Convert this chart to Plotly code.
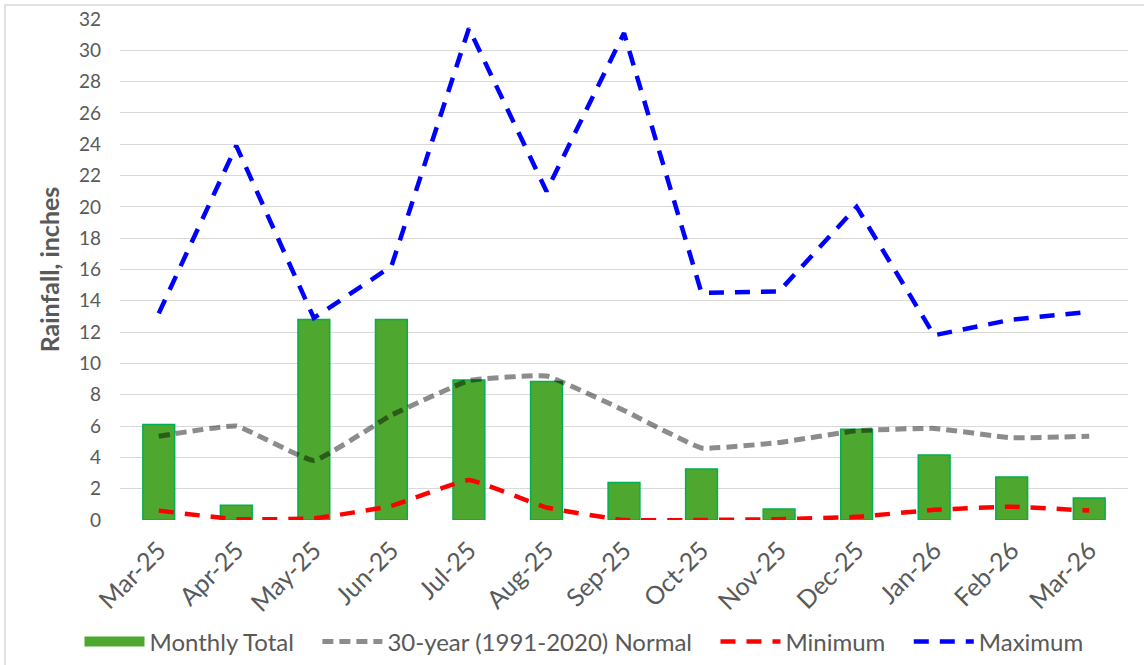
import plotly.graph_objects as go

months = ["Mar-25", "Apr-25", "May-25", "Jun-25", "Jul-25", "Aug-25", "Sep-25",
          "Oct-25", "Nov-25", "Dec-25", "Jan-26", "Feb-26", "Mar-26"]
monthly_total = [6.1, 0.95, 12.8, 12.8, 8.95, 8.85, 2.4, 3.25, 0.7, 5.8, 4.15, 2.75, 1.4]
normal = [5.35, 6.0, 3.8, 6.7, 8.9, 9.2, 7.0, 4.6, 4.95, 5.7, 5.85, 5.25, 5.35]
minimum = [0.6, 0.05, 0.1, 0.9, 2.55, 0.8, 0.0, 0.0, 0.05, 0.2, 0.65, 0.85, 0.6]
maximum = [13.2, 23.9, 12.9, 16.2, 31.4, 21.0, 31.1, 14.5, 14.6, 20.0, 11.8, 12.8, 13.3]
y_ticks = list(range(0, 34, 2))

W, H = 1144, 665
ML, MR, MT, MB = 120, 16, 19, 145
FONT = "Lato"
TXT = "#595959"
GREEN = "#4EA72E"
SP = "\u00a0\u00a0\u00a0"

fig = go.Figure()
fig.add_trace(go.Bar(
    x=months, y=monthly_total, name="Monthly Total", width=0.41,
    marker=dict(color=GREEN, line=dict(color="#00B050", width=1.5)),
    showlegend=False, legendgroup="total",
))
# legend proxy so the swatch is a wide rectangle like the original
fig.add_trace(go.Scatter(
    x=[None], y=[None], name="Monthly Total" + SP, mode="lines", legendgroup="total",
    line=dict(color=GREEN, width=14),
))
fig.add_trace(go.Scatter(
    x=months, y=normal, name="30-year (1991-2020) Normal" + SP, mode="lines",
    line=dict(color="rgba(0,0,0,0.45)", width=5, dash="11px,6px", shape="spline", smoothing=0.3),
))
fig.add_trace(go.Scatter(
    x=months, y=minimum, name="Minimum" + SP, mode="lines",
    line=dict(color="#FF0000", width=4.5, dash="15px,11px", shape="spline", smoothing=0.3),
))
fig.add_trace(go.Scatter(
    x=months, y=maximum, name="Maximum", mode="lines",
    line=dict(color="#0000FF", width=4.5, dash="15px,11px"),
))

pw = W - ML - MR
ph = H - MT - MB
# chart frame: only its top and left edges fall inside the picture
fig.add_shape(type="rect", xref="paper", yref="paper",
              x0=(5 - ML) / pw, x1=(W + 60 - ML) / pw,
              y0=-(H + 60 - MT - ph) / ph, y1=1 + (MT - 5) / ph,
              line=dict(color="#d9d9d9", width=1.5), fillcolor="rgba(0,0,0,0)", layer="below")

legend_y = -(642 - (MT + ph)) / ph
fig.update_layout(
    width=W, height=H,
    margin=dict(l=ML, r=MR, t=MT, b=MB, autoexpand=False),
    paper_bgcolor="white", plot_bgcolor="white",
    font=dict(family=FONT, color=TXT, size=19),
    showlegend=True,
    legend=dict(orientation="h", x=(584 - ML) / pw, xanchor="center", y=legend_y, yanchor="middle",
                font=dict(size=24, color=TXT), itemwidth=60, tracegroupgap=0,
                traceorder="normal"),
    xaxis=dict(range=[-0.5, 12.5], tickangle=-45, tickfont=dict(size=25, color=TXT),
               showgrid=False, showline=False, ticks="", zeroline=False, automargin=False,
               ticklabelstandoff=10),
    yaxis=dict(range=[0, 32], tickvals=y_ticks, tickfont=dict(size=19, color=TXT),
               showgrid=True, gridcolor="#d9d9d9", gridwidth=1.3, zeroline=False,
               showline=False, ticks="", ticklabelstandoff=18, automargin=False,
               ticklabeloverflow="allow",
               title=dict(text="<b>Rainfall, inches</b>", font=dict(size=25, color=TXT), standoff=12)),
)

# remove the browser's default 8px body margin so the figure sits at the window origin
fig.write_html("out.html", config={"displayModeBar": False},
               post_script="document.body.style.margin='0px';document.body.style.overflow='hidden';")
